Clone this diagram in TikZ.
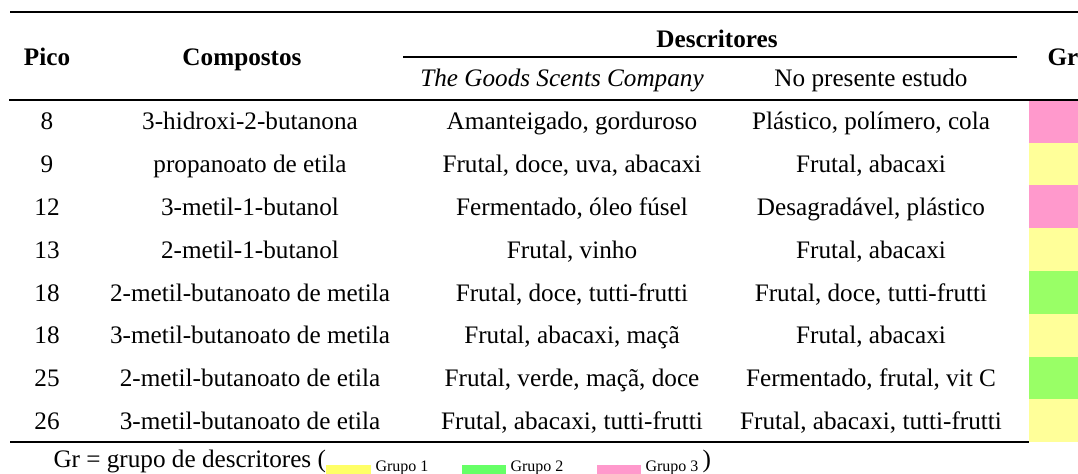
\documentclass[tikz,border=0pt]{standalone}
\usepackage{fontspec}
\setmainfont{Liberation Serif}

\definecolor{grYellow}{RGB}{255,255,153}
\definecolor{grGreen}{RGB}{153,255,102}
\definecolor{grPink}{RGB}{255,153,204}
\definecolor{legYellow}{RGB}{255,255,102}
\definecolor{legGreen}{RGB}{102,255,102}
\definecolor{legPink}{RGB}{255,153,204}

\tikzset{every picture/.style={line width=0.75pt}}
\tikzset{
  txt/.style={anchor=base,inner sep=0.75pt,font=\fontsize{18.9}{22}\selectfont},
  legtxt/.style={anchor=base west,inner sep=0.75pt,font=\fontsize{18.9}{22}\selectfont},
  leglbl/.style={anchor=base west,inner sep=0.75pt,font=\fontsize{12}{14}\selectfont},
  thinrule/.style={line width=0.9pt},
  thickrule/.style={line width=2pt},
}

\begin{document}
\begin{tikzpicture}[x=0.75pt,y=0.75pt,yscale=-1,xscale=1]
\useasboundingbox (0,0) rectangle (1078,474);

%Shape: Rectangle [group cells]
\fill [grPink]   (1029,100) rectangle (1078,142.75);
\fill [grYellow] (1029,142.75) rectangle (1078,185.5);
\fill [grPink]   (1029,185.5) rectangle (1078,228.25);
\fill [grYellow] (1029,228.25) rectangle (1078,271);
\fill [grGreen]  (1029,271) rectangle (1078,313.75);
\fill [grYellow] (1029,313.75) rectangle (1078,356.5);
\fill [grGreen]  (1029,356.5) rectangle (1078,399.25);
\fill [grYellow] (1029,399.25) rectangle (1078,442);

%Shape: Line [rules]
\draw [thinrule] (10,12) -- (1078,12);
\draw [thinrule] (403,57) -- (1017,57);
\draw [thickrule] (9,100) -- (1078,100);
\draw [thinrule] (10,442) -- (1029,442);

% Text Node
\draw (47,66) node (hpico) [txt] {\textbf{Pico}};
% Text Node
\draw (242,66) node (hcomp) [txt] {\textbf{Compostos}};
% Text Node
\draw (717,48) node (hdesc) [txt] {\textbf{Descritores}};
% Text Node
\draw (1046,66) node (hgr) [txt,anchor=base west] {\textbf{Gr}};
% Text Node
\draw (562,87) node (htgsc) [txt] {\textit{The Goods Scents Company}};
% Text Node
\draw (871,87) node (hnpe) [txt] {No presente estudo};

% Text Node
\draw (47,130) node (p1) [txt] {8};
\draw (250,130) node (c1) [txt] {3-hidroxi-2-butanona};
\draw (572,130) node (d1) [txt] {Amanteigado, gorduroso};
\draw (871,130) node (n1) [txt] {Plástico, polímero, cola};
% Text Node
\draw (47,172.75) node (p2) [txt] {9};
\draw (250,172.75) node (c2) [txt] {propanoato de etila};
\draw (572,172.75) node (d2) [txt] {Frutal, doce, uva, abacaxi};
\draw (871,172.75) node (n2) [txt] {Frutal, abacaxi};
% Text Node
\draw (47,215.5) node (p3) [txt] {12};
\draw (250,215.5) node (c3) [txt] {3-metil-1-butanol};
\draw (572,215.5) node (d3) [txt] {Fermentado, óleo fúsel};
\draw (871,215.5) node (n3) [txt] {Desagradável, plástico};
% Text Node
\draw (47,258.25) node (p4) [txt] {13};
\draw (250,258.25) node (c4) [txt] {2-metil-1-butanol};
\draw (572,258.25) node (d4) [txt] {Frutal, vinho};
\draw (871,258.25) node (n4) [txt] {Frutal, abacaxi};
% Text Node
\draw (47,301) node (p5) [txt] {18};
\draw (250,301) node (c5) [txt] {2-metil-butanoato de metila};
\draw (572,301) node (d5) [txt] {Frutal, doce, tutti-frutti};
\draw (871,301) node (n5) [txt] {Frutal, doce, tutti-frutti};
% Text Node
\draw (47,343.75) node (p6) [txt] {18};
\draw (250,343.75) node (c6) [txt] {3-metil-butanoato de metila};
\draw (572,343.75) node (d6) [txt] {Frutal, abacaxi, maçã};
\draw (871,343.75) node (n6) [txt] {Frutal, abacaxi};
% Text Node
\draw (47,386.5) node (p7) [txt] {25};
\draw (250,386.5) node (c7) [txt] {2-metil-butanoato de etila};
\draw (572,386.5) node (d7) [txt] {Frutal, verde, maçã, doce};
\draw (871,386.5) node (n7) [txt] {Fermentado, frutal, vit C};
% Text Node
\draw (47,429.25) node (p8) [txt] {26};
\draw (250,429.25) node (c8) [txt] {3-metil-butanoato de etila};
\draw (572,429.25) node (d8) [txt] {Frutal, abacaxi, tutti-frutti};
\draw (871,429.25) node (n8) [txt] {Frutal, abacaxi, tutti-frutti};

%Shape: Rectangle [legend swatches]
\fill [legYellow] (326,465) rectangle (371,474);
\fill [legGreen]  (462,465) rectangle (506,474);
\fill [legPink]   (597,465) rectangle (641,474);

% Text Node
\draw (52,467) node (leg) [legtxt] {Gr = grupo de descritores (};
% Text Node
\draw (374,471) node (leg1) [leglbl] {Grupo 1};
% Text Node
\draw (509,471) node (leg2) [leglbl] {Grupo 2};
% Text Node
\draw (644,471) node (leg3) [leglbl] {Grupo 3};
% Text Node
\draw (701,467) node (legend) [legtxt] {)};

\end{tikzpicture}
\end{document}
